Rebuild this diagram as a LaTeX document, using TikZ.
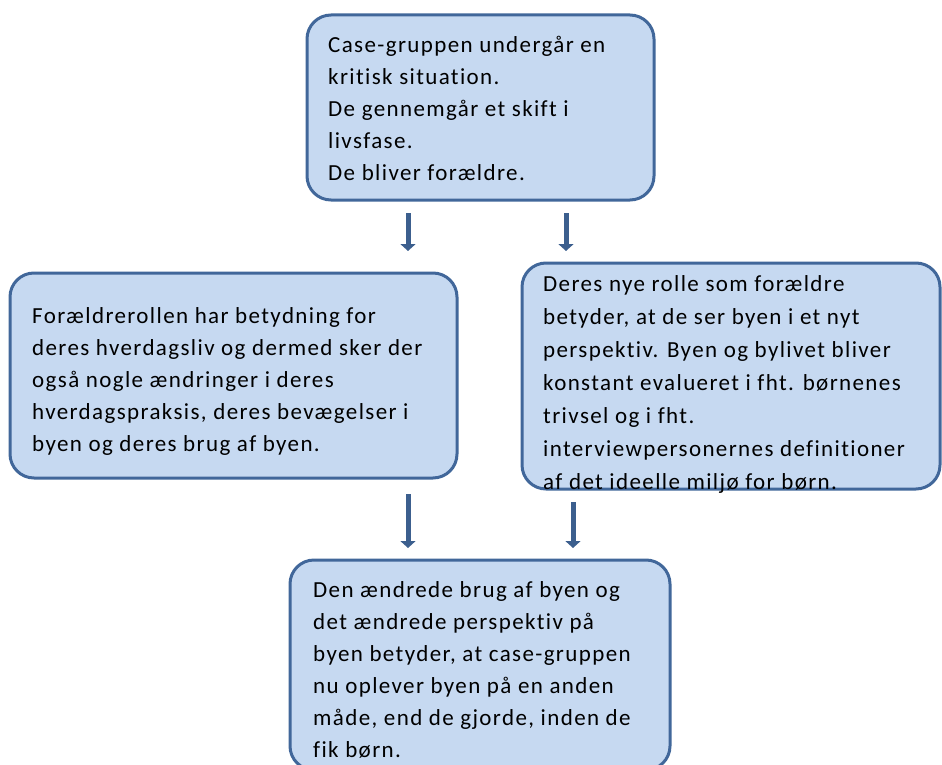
\documentclass[tikz,border=0pt]{standalone}
\usepackage{fontspec}
\setmainfont{Carlito}[LetterSpace=6,Ligatures=NoCommon]
\usetikzlibrary{arrows.meta}
\definecolor{boxfill}{HTML}{C6D9F1}
\definecolor{boxline}{HTML}{41679A}
\definecolor{arrowcol}{HTML}{3C5F8E}
\tikzset{
  box/.style={draw=boxline, fill=boxfill, line width=3pt, rounded corners=24pt},
  txt/.style={anchor=base west, inner sep=0pt},
  flow/.style={draw=arrowcol, line width=5pt, -{Triangle[width=15pt,length=7pt]}}
}
\begin{document}
\begin{tikzpicture}[x=1pt,y=-1pt]
\useasboundingbox (0,0) rectangle (942,765);
% boxes
\draw[box] (307,15) rectangle (654,200);
\draw[box] (10,273) rectangle (457,478);
\draw[box] (522,263) rectangle (940,489);
\draw[box] (290,560) rectangle (670,770);
% texts
\node[txt] (top) at (328,53) {\parbox[t]{340pt}{\fontsize{23}{32}\selectfont\raggedright
Case-gruppen undergår en\\kritisk situation.\\De gennemgår et skift i\\livsfase.\\De bliver forældre.}};
\node[txt] (left) at (32,323) {\parbox[t]{440pt}{\fontsize{23}{32}\selectfont\raggedright
Forældrerollen har betydning for\\deres hverdagsliv og dermed sker der\\også nogle ændringer i deres\\hverdagspraksis, deres bevægelser i\\byen og deres brug af byen.}};
\node[txt] (right) at (543,291) {\parbox[t]{400pt}{\fontsize{23}{33}\selectfont\raggedright
Deres nye rolle som forældre\\betyder, at de ser byen i et nyt\\perspektiv. Byen og bylivet bliver\\konstant evalueret i fht. børnenes\\trivsel og i fht.\\interviewpersonernes definitioner\\af det ideelle miljø for børn.}};
\node[txt] (bottom) at (313,597) {\parbox[t]{370pt}{\fontsize{23}{32}\selectfont\raggedright
Den ændrede brug af byen og\\det ændrede perspektiv på\\byen betyder, at case-gruppen\\nu oplever byen på en anden\\måde, end de gjorde, inden de\\fik børn.}};
% arrow ends
\coordinate (a1s) at (408,213); \coordinate (a1e) at (408,251);
\coordinate (a2s) at (566,213); \coordinate (a2e) at (566,251);
\coordinate (a3s) at (408,494); \coordinate (a3e) at (408,548);
\coordinate (a4s) at (573,502); \coordinate (a4e) at (573,548);
\draw[flow] (a1s) -- (a1e);
\draw[flow] (a2s) -- (a2e);
\draw[flow] (a3s) -- (a3e);
\draw[flow] (a4s) -- (a4e);
\end{tikzpicture}
\end{document}
